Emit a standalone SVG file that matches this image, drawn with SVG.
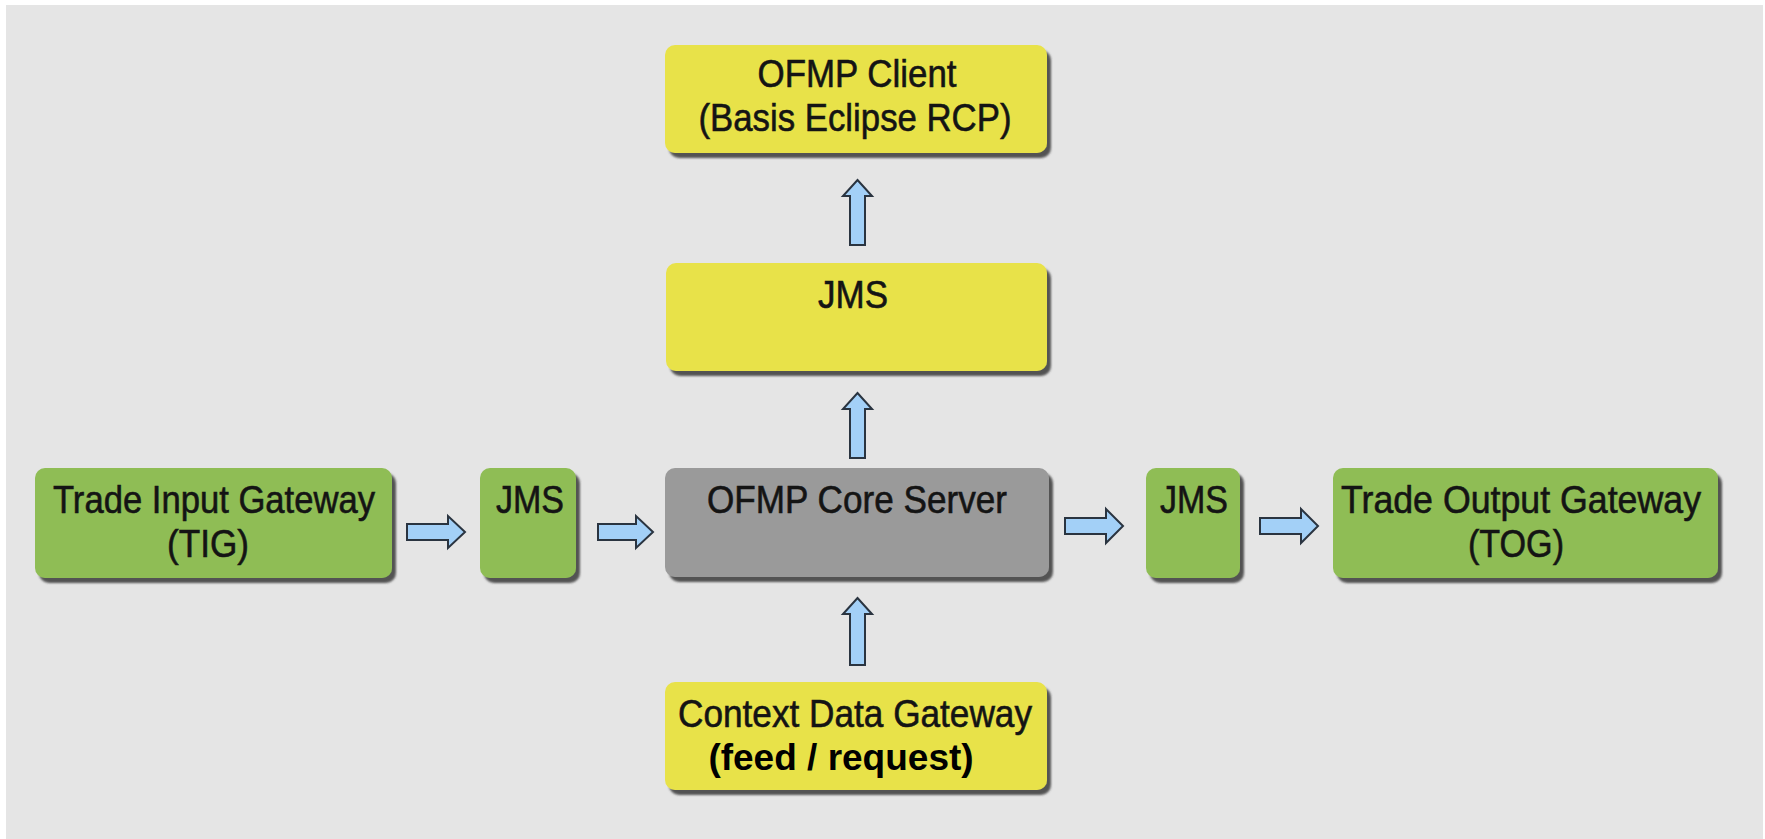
<svg xmlns="http://www.w3.org/2000/svg" width="1765" height="839" viewBox="0 0 1765 839">
<style>
.lbl{font-family:"Liberation Sans",Arial,sans-serif;font-size:39px;fill:#141414;stroke:#141414;stroke-width:0.6;text-anchor:middle}
.bold{font-family:"Liberation Sans",Arial,sans-serif;font-size:37px;font-weight:bold;fill:#000;text-anchor:middle}
.yel{fill:#e8e24a}
.grn{fill:#8fbd55}
.gry{fill:#9a9a9a}
.arr{fill:#a3d0f7;stroke:#2a3440;stroke-width:2;stroke-linejoin:miter}
</style>
<defs>
<filter id="sh" x="-10%" y="-10%" width="130%" height="140%">
<feDropShadow dx="4" dy="5" stdDeviation="1.2" flood-color="#3a3a3a" flood-opacity="0.85"/>
</filter>
</defs>
<rect x="0" y="0" width="1765" height="839" fill="#ffffff"/>
<rect x="6" y="5" width="1757" height="834" fill="#e5e5e5"/>

<g id="client">
<rect class="yel" x="665" y="45" width="382" height="108" rx="10" filter="url(#sh)"/>
<text class="lbl" x="857" y="87" textLength="199" lengthAdjust="spacingAndGlyphs">OFMP Client</text>
<text class="lbl" x="855" y="131" textLength="313" lengthAdjust="spacingAndGlyphs">(Basis Eclipse RCP)</text>
</g>

<g id="jms-top">
<rect class="yel" x="666" y="263" width="381" height="108" rx="10" filter="url(#sh)"/>
<text class="lbl" x="853" y="308" textLength="70" lengthAdjust="spacingAndGlyphs">JMS</text>
</g>

<g id="core">
<rect class="gry" x="665" y="468" width="384" height="109" rx="10" filter="url(#sh)"/>
<text class="lbl" x="857" y="513" textLength="300" lengthAdjust="spacingAndGlyphs">OFMP Core Server</text>
</g>

<g id="context">
<rect class="yel" x="665" y="682" width="382" height="108" rx="10" filter="url(#sh)"/>
<text class="lbl" x="855" y="727" textLength="354" lengthAdjust="spacingAndGlyphs">Context Data Gateway</text>
<text class="bold" x="841" y="770">(feed / request)</text>
</g>

<g id="tig">
<rect class="grn" x="35" y="468" width="357" height="110" rx="10" filter="url(#sh)"/>
<text class="lbl" x="214" y="513" textLength="322" lengthAdjust="spacingAndGlyphs">Trade Input Gateway</text>
<text class="lbl" x="208" y="557" textLength="82" lengthAdjust="spacingAndGlyphs">(TIG)</text>
</g>

<g id="jms-left">
<rect class="grn" x="480" y="468" width="96" height="110" rx="10" filter="url(#sh)"/>
<text class="lbl" x="530" y="513" textLength="68" lengthAdjust="spacingAndGlyphs">JMS</text>
</g>

<g id="jms-right">
<rect class="grn" x="1146" y="468" width="94" height="110" rx="10" filter="url(#sh)"/>
<text class="lbl" x="1194" y="513" textLength="68" lengthAdjust="spacingAndGlyphs">JMS</text>
</g>

<g id="tog">
<rect class="grn" x="1333" y="468" width="385" height="110" rx="10" filter="url(#sh)"/>
<text class="lbl" x="1521" y="513" textLength="360" lengthAdjust="spacingAndGlyphs">Trade Output Gateway</text>
<text class="lbl" x="1516" y="557" textLength="96" lengthAdjust="spacingAndGlyphs">(TOG)</text>
</g>

<g id="connectors">
<path class="arr" d="M857.5,180 L872,196 L865,196 L865,245 L850,245 L850,196 L843,196 Z"/>
<path class="arr" d="M857.5,393 L872,409 L865,409 L865,458 L850,458 L850,409 L843,409 Z"/>
<path class="arr" d="M857.5,598 L872,614 L865,614 L865,665 L850,665 L850,614 L843,614 Z"/>
<path class="arr" d="M407,524 L448,524 L448,516 L465,532 L448,548 L448,540 L407,540 Z"/>
<path class="arr" d="M598,524 L636,524 L636,516 L653,532 L636,548 L636,540 L598,540 Z"/>
<path class="arr" d="M1065,518 L1106,518 L1106,509 L1123,526 L1106,543 L1106,534 L1065,534 Z"/>
<path class="arr" d="M1260,518 L1301,518 L1301,509 L1318,526 L1301,543 L1301,534 L1260,534 Z"/>
</g>
</svg>
